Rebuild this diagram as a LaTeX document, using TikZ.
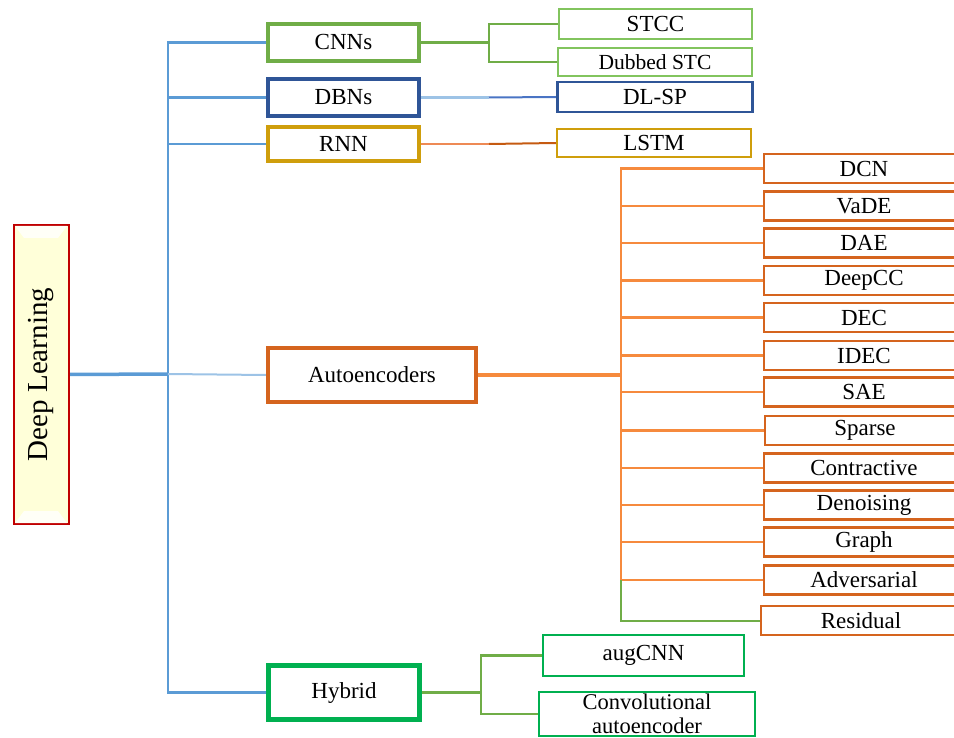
\documentclass[tikz,border=0pt]{standalone}
\usepackage{fontspec}
\setmainfont{Liberation Serif}
\usetikzlibrary{backgrounds}
\definecolor{trunkblue}{HTML}{5B9BD5}
\definecolor{lightblue}{HTML}{9DC3E6}
\definecolor{cnngreen}{HTML}{70AD47}
\definecolor{kidgreen}{HTML}{82C45E}
\definecolor{dbnblue}{HTML}{2F5597}
\definecolor{dbnline}{HTML}{4A74C4}
\definecolor{rnngold}{HTML}{CF9E0C}
\definecolor{rnnline}{HTML}{C55A11}
\definecolor{rnnlight}{HTML}{EE8A55}
\definecolor{aeborder}{HTML}{D5641E}
\definecolor{aeline}{HTML}{F68A3D}
\definecolor{hybgreen}{HTML}{00B050}
\definecolor{dlfill}{HTML}{FFFFD9}
\definecolor{dlred}{HTML}{C00000}
\tikzset{
  box/.style={draw, fill=white, inner sep=0pt, align=center, text=black,
    font=\fontsize{23}{24}\selectfont},
  lvl/.style={box, line width=4pt, minimum width=151pt},
  kid/.style={box, line width=2.2pt},
  aekid/.style={box, draw=aeborder, line width=2.5pt, minimum width=200pt, minimum height=29pt},
  conn/.style={line width=2.2pt}
}
\begin{document}
\begin{tikzpicture}[x=1pt,y=-1pt]
\useasboundingbox (0,0) rectangle (954,738);
\clip (0,0) rectangle (954,738);

% root
\node[box, fill=dlfill, draw=dlred, line width=2pt, minimum width=55pt, minimum height=298pt] (dl) at (41,374.5) {};
\fill[white, opacity=0.8] (15,226) -- (67,226) -- (58,238) -- (24,238) -- cycle;
\fill[white, opacity=0.8] (15,523) -- (67,523) -- (58,511) -- (24,511) -- cycle;
\node[rotate=90, font=\fontsize{29}{31}\selectfont] (dltext) at (41,374.5) {Deep Learning};

% level 1
\node[lvl, draw=cnngreen, minimum height=37pt] (cnn) at (343.5,42.5) {CNNs};
\node[lvl, draw=dbnblue, minimum height=37pt] (dbn) at (343.5,97.5) {DBNs};
\node[lvl, draw=rnngold, minimum height=34pt] (rnn) at (343.5,144) {RNN};
\node[lvl, draw=aeborder, minimum width=208pt, minimum height=54pt] (ae) at (372,375) {Autoencoders};
\node[lvl, draw=hybgreen, line width=5pt, minimum height=54pt] (hyb) at (344,692.5) {Hybrid};

% level 2
\node[kid, draw=kidgreen, minimum width=193pt, minimum height=30pt] (stcc) at (655.5,24) {STCC};
\node[kid, draw=kidgreen, minimum width=194pt, minimum height=28pt, font=\fontsize{21.5}{22}\selectfont] (dub) at (655,62) {Dubbed STC};
\node[kid, draw=dbnblue, line width=2.5pt, minimum width=195pt, minimum height=30pt] (dlsp) at (655,97) {DL-SP};
\node[kid, draw=rnngold, minimum width=194pt, minimum height=28pt] (lstm) at (654,143) {LSTM};

\node[aekid] (dcn) at (864,168.5) {DCN};
\node[aekid] (vade) at (864,206) {VaDE};
\node[aekid] (dae) at (864,243) {DAE};
\node[aekid] (deepcc) at (864,280.5) {DeepCC};
\node[aekid] (dec) at (864,317.5) {DEC};
\node[aekid] (idec) at (864,355.5) {IDEC};
\node[aekid] (sae) at (864,392) {SAE};
\node[aekid] (sparse) at (865,430.5) {Sparse};
\node[aekid] (contr) at (864,468) {Contractive};
\node[aekid] (denoise) at (864,505) {Denoising};
\node[aekid] (graph) at (864,542) {Graph};
\node[aekid] (adv) at (864,580) {Adversarial};
\node[aekid] (resid) at (861,620.5) {Residual};

\node[kid, draw=hybgreen, line width=2.5pt, minimum width=201pt, minimum height=41pt] (aug) at (643.5,655.5) {augCNN};
\node[kid, draw=hybgreen, line width=2.5pt, minimum width=216pt, minimum height=44pt, font=\fontsize{22.5}{24}\selectfont] (conv) at (647,714) {Convolutional\\autoencoder};

% junctions
\coordinate (tj) at (168,374);
\coordinate (cj) at (489,42.5);
\coordinate (dbj) at (489,97.5);
\coordinate (rnj) at (489,144);
\coordinate (aej) at (621,375);
\coordinate (advj) at (621,580);
\coordinate (hj) at (481,692.5);

\begin{scope}[on background layer]
% root connectors
\draw[trunkblue, line width=3.5pt] (dl.east) -- (tj);
\draw[trunkblue, conn] (tj) |- (cnn.west);
\draw[trunkblue, conn] (tj) |- (dbn.west);
\draw[trunkblue, conn] (tj) |- (rnn.west);
\draw[trunkblue, conn] (tj) |- (hyb.west);
\draw[lightblue, line width=2pt] (tj) -- (ae.west);
% CNN
\draw[cnngreen, conn] (cnn.east) -- (cj);
\draw[cnngreen, conn] (cj) |- (stcc.west);
\draw[cnngreen, conn] (cj) |- (dub.west);
% DBN
\draw[lightblue, line width=3pt] (dbn.east) -- (dbj);
\draw[dbnline, line width=2pt] (dbj) -- (dlsp.west);
% RNN
\draw[rnnlight, line width=2pt] (rnn.east) -- (rnj);
\draw[rnnline, line width=2pt] (rnj) -- (lstm.west);
% AE
\draw[aeline, line width=4pt] (ae.east) -- (aej);
\foreach \k in {dcn,vade,dae,deepcc,dec,idec,sae,sparse,contr,denoise,graph,adv}
  \draw[aeline, line width=2.8pt] (aej) |- (\k.west);
\draw[cnngreen, line width=2pt] (advj) |- (resid.west);
% Hybrid
\draw[cnngreen, line width=3.5pt] (hyb.east) -- (hj);
\draw[cnngreen, line width=2.5pt] (hj) |- (aug.west);
\draw[cnngreen, line width=2.5pt] (hj) |- (conv.west);
\end{scope}
\end{tikzpicture}
\end{document}
